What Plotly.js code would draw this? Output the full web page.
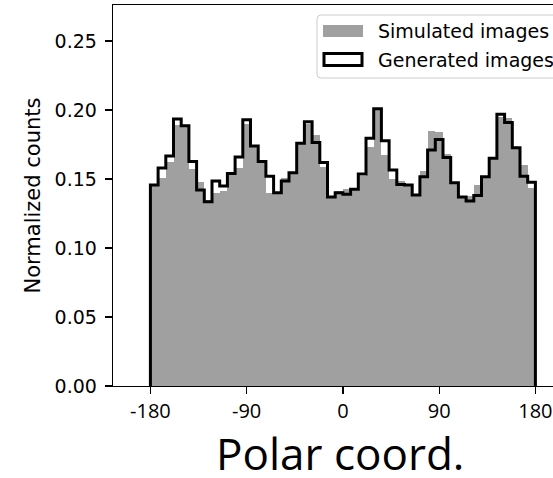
<!DOCTYPE html>
<html>
<head>
<meta charset="utf-8">
<script src="https://cdn.plot.ly/plotly-3.0.1.min.js"></script>
<style>html,body{margin:0;padding:0;background:#fff;}#chart{width:553px;height:478px;}</style>
</head>
<body>
<div id="chart"></div>
<script>
// Histogram: 50 bins over [-180, 180]
const binStart = -180;
const binWidth = 7.2;
const simulated = [0.145, 0.151, 0.1626, 0.189, 0.188, 0.157, 0.148, 0.135, 0.1396, 0.141,
                   0.154, 0.158, 0.190, 0.175, 0.163, 0.1396, 0.140, 0.151, 0.155, 0.176,
                   0.190, 0.182, 0.159, 0.137, 0.141, 0.1425, 0.1425, 0.152, 0.1734, 0.200,
                   0.1674, 0.150, 0.1486, 0.146, 0.139, 0.156, 0.185, 0.184, 0.168, 0.148,
                   0.137, 0.138, 0.146, 0.152, 0.165, 0.195, 0.1945, 0.173, 0.160, 0.1437];
const generated = [0.1457, 0.158, 0.1667, 0.1935, 0.1886, 0.1626, 0.142, 0.1336, 0.1486, 0.145,
                   0.154, 0.166, 0.193, 0.174, 0.1626, 0.152, 0.140, 0.1486, 0.1546, 0.176,
                   0.1915, 0.1764, 0.162, 0.137, 0.140, 0.139, 0.1425, 0.1536, 0.1795, 0.201,
                   0.1778, 0.1565, 0.146, 0.1457, 0.1384, 0.1517, 0.171, 0.1787, 0.1655, 0.1473,
                   0.137, 0.134, 0.138, 0.1517, 0.165, 0.197, 0.191, 0.1727, 0.152, 0.1476];
const xTicks = [-180, -90, 0, 90, 180];
const xTickLabels = ['-180', '-90', '0', '90', '180'];
const yTicks = [0, 0.05, 0.10, 0.15, 0.20, 0.25];
const seriesNames = ['Simulated images', 'Generated images'];
const xTitle = 'Polar coord.';
const yTitle = 'Normalized counts';

const n = simulated.length;
const edges = [];
for (let i = 0; i <= n; i++) edges.push(binStart + i * binWidth);
const centers = simulated.map((_, i) => edges[i] + binWidth / 2);

// step outline for generated histogram
const stepX = [edges[0]];
const stepY = [0];
for (let i = 0; i < n; i++) { stepX.push(edges[i]); stepY.push(generated[i]); }
stepX.push(edges[n]); stepY.push(generated[n - 1]);
stepX.push(edges[n]); stepY.push(0);

const traces = [
  {type: 'bar', x: centers, y: simulated, width: binWidth, name: seriesNames[0],
   marker: {color: '#a0a0a0', line: {width: 0}}, showlegend: false, hoverinfo: 'x+y'},
  {type: 'scatter', mode: 'lines', x: stepX, y: stepY, name: seriesNames[1],
   line: {color: '#000', width: 3, shape: 'hv'}, showlegend: false}
];

// plot area geometry (pixels) for the hand-placed legend and x title
const L = 113, T = 5, W = 440, H = 381;
const px = v => (v - L) / W;
const py = v => (T + H - v) / H;

const bx0 = 317, bx1 = 580, by0 = 15, by1 = 78, r = 4;
const rx = r / W, ry = r / H;
const boxPath = `M${px(bx0)+rx},${py(by0)} L${px(bx1)-rx},${py(by0)} Q${px(bx1)},${py(by0)} ${px(bx1)},${py(by0)-ry} ` +
  `L${px(bx1)},${py(by1)+ry} Q${px(bx1)},${py(by1)} ${px(bx1)-rx},${py(by1)} L${px(bx0)+rx},${py(by1)} ` +
  `Q${px(bx0)},${py(by1)} ${px(bx0)},${py(by1)+ry} L${px(bx0)},${py(by0)-ry} Q${px(bx0)},${py(by0)} ${px(bx0)+rx},${py(by0)} Z`;

const shapes = [
  {type: 'path', xref: 'paper', yref: 'paper', path: boxPath,
   fillcolor: 'rgba(255,255,255,0.8)', line: {color: '#cccccc', width: 1}},
  {type: 'rect', xref: 'paper', yref: 'paper', x0: px(323), x1: px(363), y0: py(25), y1: py(37),
   fillcolor: '#a0a0a0', line: {width: 0}},
  {type: 'rect', xref: 'paper', yref: 'paper', x0: px(324), x1: px(362), y0: py(53.5), y1: py(65.5),
   fillcolor: 'rgba(0,0,0,0)', line: {color: '#000', width: 3}}
];
const annotations = [
  {xref: 'paper', yref: 'paper', x: px(376), y: py(31.5), xanchor: 'left', yanchor: 'middle',
   text: seriesNames[0], showarrow: false, font: {family: 'DejaVu Sans', size: 19, color: '#000'}},
  {xref: 'paper', yref: 'paper', x: px(376), y: py(60), xanchor: 'left', yanchor: 'middle',
   text: seriesNames[1], showarrow: false, font: {family: 'DejaVu Sans', size: 19, color: '#000'}},
  // x-axis title
  {xref: 'paper', yref: 'paper', x: px(340), y: py(453), xanchor: 'center', yanchor: 'middle',
   text: xTitle, showarrow: false, font: {family: 'Open Sans', size: 44, color: '#000'}}
];

const layout = {
  width: 553, height: 478,
  margin: {l: L, r: 553 - L - W, t: T, b: 478 - T - H, pad: 0},
  paper_bgcolor: '#fff', plot_bgcolor: '#fff',
  showlegend: false, bargap: 0,
  xaxis: {
    range: [-214.97, 196.46], tickvals: xTicks, ticktext: xTickLabels,
    showgrid: false, zeroline: false, showline: true, mirror: true, linecolor: '#000', linewidth: 1.3,
    ticks: 'outside', ticklen: 7, tickwidth: 1.3, tickcolor: '#000', ticklabeloverflow: 'allow',
    tickfont: {family: 'Open Sans', size: 20, color: '#000'}
  },
  yaxis: {
    range: [0, 0.2761], tickvals: yTicks, tickformat: '.2f',
    showgrid: false, zeroline: false, showline: true, mirror: false, linecolor: '#000', linewidth: 1.3,
    ticks: 'outside', ticklen: 7, tickwidth: 1.3, tickcolor: '#000', ticklabelstandoff: 4,
    tickfont: {family: 'DejaVu Sans', size: 19, color: '#000'},
    title: {text: yTitle, font: {family: 'DejaVu Sans', size: 21, color: '#000'}, standoff: 8}
  },
  shapes: shapes, annotations: annotations
};

Plotly.newPlot('chart', traces, layout, {displayModeBar: false, staticPlot: true});
</script>
</body>
</html>
